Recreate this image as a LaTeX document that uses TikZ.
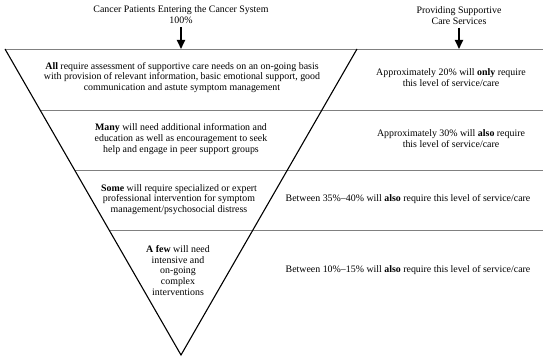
\documentclass[tikz,border=0pt]{standalone}
\usepackage{fontspec}
\setmainfont{Liberation Serif}
\usetikzlibrary{arrows.meta}

\begin{document}
\begin{tikzpicture}[x=1pt,y=-1pt,>={Triangle[width=8pt,length=9pt]},
  txt/.style={align=center,inner sep=0pt,font=\fontsize{9.9}{10.8}\selectfont},
  tier/.style={draw=black!50,line width=.9pt},
  funnel/.style={draw=black,line width=1.1pt,line join=miter}]
\useasboundingbox (0,0) rectangle (550,363);
% the inverted triangle
\coordinate (TL) at (5,49);\coordinate (TR) at (357,49);\coordinate (AP) at (181,355);
\coordinate (E0) at (543,49);
\coordinate (L1) at (40,110);\coordinate (E1) at (543,110);
\coordinate (L2) at (74.5,170);\coordinate (E2) at (543,170);
\coordinate (L3) at (109,230);\coordinate (E3) at (543,230);
\draw[tier] (TL)--(E0);\draw[tier] (L1)--(E1);\draw[tier] (L2)--(E2);\draw[tier] (L3)--(E3);
\draw[funnel] (TL)--(AP)--(TR);
% headings and arrows
\node[txt] (hdrL) at (181,15){Cancer Patients Entering the Cancer System\\100\%};
\node[txt] (hdrR) at (459,15.5){Providing Supportive\\Care Services};
\coordinate (inL) at (hdrL.south|-TL);\coordinate (inR) at (hdrR.south|-TL);
\draw[->,line width=2pt,shorten <=3pt] (hdrL.south)--(inL);
\draw[->,line width=2pt,shorten <=3pt] (hdrR.south)--(inR);
% levels inside the triangle
\node[txt] (all) at (182,77.5){\textbf{All} require assessment of supportive care needs on an on-going basis\\with provision of relevant information, basic emotional support, good\\communication and astute symptom management};
\node[txt] (many) at (181,139){\textbf{Many} will need additional information and\\education as well as encouragement to seek\\help and engage in peer support groups};
\node[txt] (some) at (179,199.5){\textbf{Some} will require specialized or expert\\professional intervention for symptom\\management/psychosocial distress};
\node[txt] (few) at (178,270.5){\textbf{A few} will need\\intensive and\\on-going\\complex\\interventions};
% share of patients
\node[txt] (pAll) at (451,78){Approximately 20\% will \textbf{only} require\\this level of service/care};
\node[txt] (pMany) at (451,139){Approximately 30\% will \textbf{also} require\\this level of service/care};
\node[txt] (pSome) at (408,199.5){Between 35\%--40\% will \textbf{also} require this level of service/care};
\node[txt] (pFew) at (408,270.5){Between 10\%--15\% will \textbf{also} require this level of service/care};
\end{tikzpicture}
\end{document}
